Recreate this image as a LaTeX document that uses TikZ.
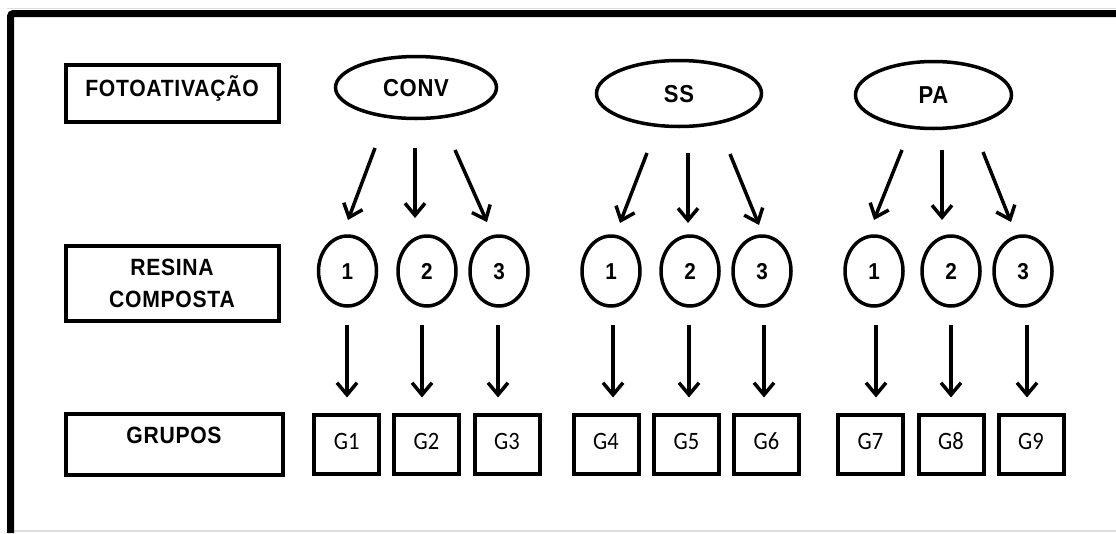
\documentclass[tikz,border=0pt]{standalone}
\usepackage{fontspec}
\setmainfont{Liberation Sans}
\newfontfamily\headfont[FakeStretch=0.9,LetterSpace=3]{Liberation Sans}
\newfontfamily\glabelfont[FakeStretch=0.9]{Carlito}
\usetikzlibrary{shapes.geometric,arrows.meta,calc}

\tikzset{
  headbox/.style={draw, line width=4pt, rectangle, outer sep=0pt, inner sep=0pt,
    font=\headfont\bfseries\fontsize{23.5}{32}\selectfont},
  method/.style={draw, line width=3.5pt, ellipse, outer sep=0pt, inner sep=0pt,
    font=\headfont\bfseries\fontsize{24.5}{26}\selectfont, text height=17.5pt, text depth=0pt},
  resin/.style={draw, line width=3.5pt, ellipse, outer sep=0pt, inner sep=0pt,
    minimum width=58pt, minimum height=70pt,
    font=\headfont\bfseries\fontsize{23}{24}\selectfont, text height=16.5pt, text depth=0pt},
  groupbox/.style={draw, line width=4pt, rectangle, outer sep=0pt, inner sep=0pt,
    minimum width=65pt, minimum height=59pt,
    font=\glabelfont\fontsize{25}{26}\selectfont, text height=16pt, text depth=7pt},
  arr/.style={line width=3.5pt, -{Straight Barb[length=12pt,width=20pt]}},
}

\begin{document}
\begin{tikzpicture}[x=1pt, y=-1pt]
\useasboundingbox (0,0) rectangle (1116,533);

% outer frame (top and left edges) with faint page lines
\draw[gray!25, line width=1pt] (7,8) -- (1116,8);
\draw[gray!25, line width=1.5pt] (14,531) -- (1116,531);
\draw[line width=7pt, rounded corners=3pt] (10.5,533) -- (10.5,13.5) -- (1116,13.5);

% row headings
\node[headbox, minimum width=213pt, minimum height=57pt, text height=17pt, text depth=12pt]
  (foto) at (172,93.5) {FOTOATIVAÇÃO};
\node[headbox, minimum width=213pt, minimum height=75pt, align=center]
  (resina) at (172,283.5) {RESINA\\COMPOSTA};
\node[headbox, minimum width=217pt, minimum height=61pt, text height=17pt, text depth=19pt]
  (grupos) at (174,444.5) {GRUPOS};

% light-curing methods
\node[method, minimum width=161pt, minimum height=62pt] (conv) at (416,87.5) {CONV};
\node[method, minimum width=165pt, minimum height=66pt] (ss) at (679,93.5) {SS};
\node[method, minimum width=156pt, minimum height=67pt] (pa) at (933.5,95) {PA};

% composite resins
\node[resin] (c1) at (347.5,271) {1};
\node[resin] (c2) at (427,271) {2};
\node[resin] (c3) at (499,271) {3};
\node[resin] (c4) at (611,271) {1};
\node[resin] (c5) at (690,271) {2};
\node[resin] (c6) at (762,271) {3};
\node[resin] (c7) at (874,271) {1};
\node[resin] (c8) at (951,271) {2};
\node[resin] (c9) at (1023,271) {3};

% groups
\node[groupbox] (g1) at (346.75,444.5) {G1};
\node[groupbox] (g2) at (426.5,444.5) {G2};
\node[groupbox] (g3) at (507,444.5) {G3};
\node[groupbox] (g4) at (606,444.5) {G4};
\node[groupbox] (g5) at (686.5,444.5) {G5};
\node[groupbox] (g6) at (766.5,444.5) {G6};
\node[groupbox] (g7) at (870.5,444.5) {G7};
\node[groupbox] (g8) at (951,444.5) {G8};
\node[groupbox] (g9) at (1031,444.5) {G9};

% method -> resin
\draw[arr] ($(conv.south)+(-41,29.5)$) -- ($(c1.north)+(0.5,-16)$);
\draw[arr] ($(conv.south)+(-1,29.5)$) -- ($(c2.north)+(-12,-18)$);
\draw[arr] ($(conv.south)+(39,31.5)$) -- ($(c3.north)+(-12,-14)$);
\draw[arr] ($(ss.south)+(-32,26.5)$) -- ($(c4.north)+(9,-13)$);
\draw[arr] ($(ss.south)+(9,26.5)$) -- ($(c5.north)+(-2,-13)$);
\draw[arr] ($(ss.south)+(51,27.5)$) -- ($(c6.north)+(-3,-11)$);
\draw[arr] ($(pa.south)+(-31.5,21.5)$) -- ($(c7.north)+(0,-16)$);
\draw[arr] ($(pa.south)+(8.5,21.5)$) -- ($(c8.north)+(-9,-16)$);
\draw[arr] ($(pa.south)+(49.5,23.5)$) -- ($(c9.north)+(-12,-14)$);

% resin -> group
\draw[arr] ($(c1.south)+(-0.5,19)$) -- ($(g1.north)+(0.25,-17.5)$);
\draw[arr] ($(c2.south)+(-5,19)$) -- ($(g2.north)+(-4.5,-17.5)$);
\draw[arr] ($(c3.south)+(-1,19)$) -- ($(g3.north)+(-9,-17.5)$);
\draw[arr] ($(c4.south)+(2,19)$) -- ($(g4.north)+(7,-17.5)$);
\draw[arr] ($(c5.south)+(-1,19)$) -- ($(g5.north)+(2.5,-17.5)$);
\draw[arr] ($(c6.south)+(2,19)$) -- ($(g6.north)+(-2.5,-17.5)$);
\draw[arr] ($(c7.south)+(2,19)$) -- ($(g7.north)+(5.5,-17.5)$);
\draw[arr] ($(c8.south)+(0,19)$) -- ($(g8.north)+(0,-17.5)$);
\draw[arr] ($(c9.south)+(4,19)$) -- ($(g9.north)+(-4,-17.5)$);
\end{tikzpicture}
\end{document}
